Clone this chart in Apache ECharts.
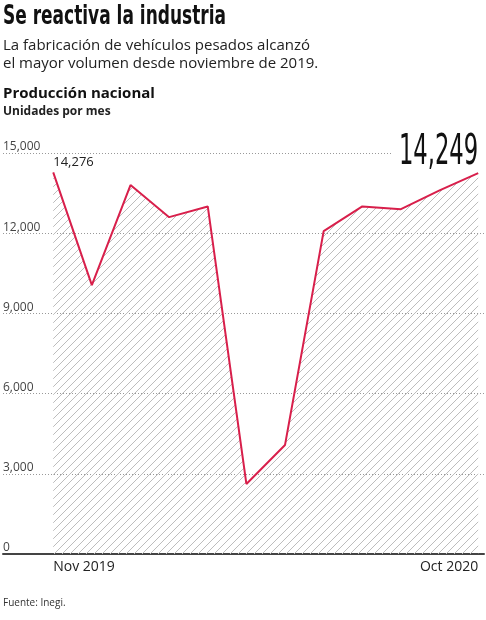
<!DOCTYPE html>
<html><head><meta charset="utf-8">
<script src="https://cdn.jsdelivr.net/npm/echarts@6/dist/echarts.min.js"></script>
<style>html,body{margin:0;background:#fff}#c{width:486px;height:620px}</style>
</head><body><div id="c"></div>
<script>
var months = ["Nov 2019","Dic","Ene","Feb","Mar","Abr","May","Jun","Jul","Ago","Sep","Oct 2020"];
var units = [14276, 10060, 13800, 12600, 13000, 2620, 4080, 12080, 13000, 12900, 13600, 14249];
var yTicks = [0, 3000, 6000, 9000, 12000, 15000];

var RED = "#d81f4b";
var hatch = document.createElement("canvas");
hatch.width = 8; hatch.height = 8;
var hc = hatch.getContext("2d");
hc.strokeStyle = "#bdbdbd"; hc.lineWidth = 1;
hc.beginPath(); hc.moveTo(0, 8); hc.lineTo(8, 0); hc.moveTo(-2, 2); hc.lineTo(2, -2); hc.moveTo(6, 10); hc.lineTo(10, 6); hc.stroke();

var chart = echarts.init(document.getElementById("c"));
chart.setOption({
  animation: false,
  grid: { left: 3, right: 2, top: 153, bottom: 66 },
  xAxis: {
    type: "value", min: function () { return -1.3; }, max: function () { return 11.15; }, scale: true,
    splitLine: { show: false },
    axisLine: { show: true, onZero: false, lineStyle: { color: "#444", width: 2 } },
    axisTick: { show: false },
    axisLabel: { show: false }
  },
  yAxis: {
    type: "value", min: 0, max: 15000, interval: 3000,
    axisLine: { show: false }, axisTick: { show: false },
    splitLine: { lineStyle: { color: "#999", type: [1, 2], width: 1 } },
    axisLabel: { inside: true, verticalAlign: "bottom", margin: 0, color: "#444", fontSize: 12, fontFamily: "Open Sans",
      formatter: function (v) { return yTicks.indexOf(v) >= 0 ? v.toLocaleString("en-US") : ""; } }
  },
  series: [{
    type: "line", symbol: "none",
    data: units.map(function (v, i) { return [i, v]; }),
    lineStyle: { color: RED, width: 2 },
    areaStyle: { color: { image: hatch, repeat: "repeat" }, opacity: 1 },
    z: 3
  }]
});
var p0 = chart.convertToPixel({ gridIndex: 0 }, [0, units[0]]);
var p11 = chart.convertToPixel({ gridIndex: 0 }, [11, units[11]]);
var base = chart.convertToPixel({ gridIndex: 0 }, [0, 0])[1];
chart.setOption({
  graphic: [
    { type: "text", x: 3, y: 3, scaleX: 0.7, style: { text: "Se reactiva la industria", font: "bold 27px 'DejaVu Sans Condensed'", fill: "#111" } },
    { type: "text", left: 3, top: 37, style: { text: "La fabricación de vehículos pesados alcanzó\nel mayor volumen desde noviembre de 2019.", font: "15px 'Open Sans'", lineHeight: 18, fill: "#222" } },
    { type: "text", left: 3, top: 86, style: { text: "Producción nacional", font: "bold 15px 'Open Sans'", fill: "#111" } },
    { type: "text", left: 3, top: 106, style: { text: "Unidades por mes", font: "bold 12px 'Open Sans'", fill: "#222" } },
    { type: "text", x: p0[0], y: p0[1] - 17, style: { text: units[0].toLocaleString("en-US"), font: "13px 'Open Sans'", fill: "#222" }, z: 10 },
    { type: "rect", shape: { x: 392, y: 149, width: 94, height: 8 }, style: { fill: "#fff" }, z: 9 },
    { type: "text", x: p11[0], y: 132, scaleX: 0.6, style: { text: units[11].toLocaleString("en-US"), align: "right", font: "42px 'DejaVu Sans Condensed'", fill: "#111" }, z: 10 },
    { type: "text", x: p0[0], y: base + 6, style: { text: months[0], font: "14px 'Open Sans'", fill: "#222" } },
    { type: "text", x: p11[0], y: base + 6, style: { text: months[11], align: "right", font: "14px 'Open Sans'", fill: "#222" } },
    { type: "text", left: 3, top: 598, style: { text: "Fuente: Inegi.", font: "10px 'Open Sans'", fill: "#333" } }
  ]
});
</script></body></html>
